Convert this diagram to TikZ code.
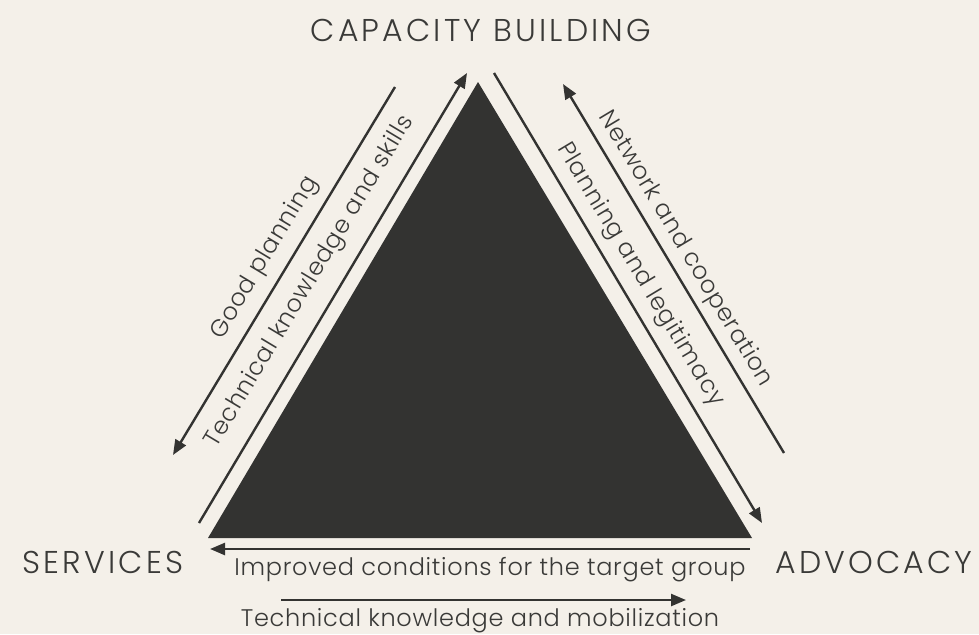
\documentclass[tikz,border=0pt]{standalone}
\usepackage{fontspec}
\setmainfont{Poppins}[UprightFont={* Light}]
\newfontfamily\cornerfont{Poppins}[UprightFont={* Light},LetterSpace=10]
\newfontfamily\labelfont{Poppins}[UprightFont={* Light},LetterSpace=3]
\usetikzlibrary{arrows.meta}
\definecolor{bg}{HTML}{F4F0E9}
\definecolor{ink}{HTML}{333331}
\definecolor{txt}{HTML}{3A3A38}
\begin{document}
\begin{tikzpicture}[x=1pt,y=-1pt,
  conn/.style={draw=ink, line width=2.4pt},
  arr/.style={conn, -{Triangle[length=15pt,width=12pt]}},
  corner/.style={text=txt, font=\cornerfont\fontsize{31.5}{34}\selectfont, inner sep=0pt},
  lbl/.style={text=txt, font=\labelfont\fontsize{24}{27}\selectfont, inner sep=0pt}]
\fill[bg] (0,0) rectangle (979,634);
\useasboundingbox (0,0) rectangle (979,634);
% triangle
\coordinate (apex) at (478,82);
\coordinate (bl) at (208,538);
\coordinate (br) at (752,538);
\fill[ink] (apex) -- (bl) -- (br) -- cycle;
% corner labels
\node[corner] (cb) at (481,30) {CAPACITY BUILDING};
\node[corner] (sv) at (103,562) {SERVICES};
\node[corner] (ad) at (874,562) {ADVOCACY};
% connector end points
\coordinate (l1s) at (395,87);  \coordinate (l1e) at (173,455);
\coordinate (l2s) at (199,523); \coordinate (l2e) at (467,73);
\coordinate (r1s) at (494,73);  \coordinate (r1e) at (762,523);
\coordinate (r2s) at (784,453); \coordinate (r2e) at (563,84);
\coordinate (b1s) at (750,549); \coordinate (b1e) at (210,549);
\coordinate (b2s) at (281,600); \coordinate (b2e) at (686,600);
\draw[arr] (l1s) -- (l1e);
\draw[arr] (l2s) -- (l2e);
\draw[arr] (r1s) -- (r1e);
\draw[arr] (r2s) -- (r2e);
\draw[arr] (b1s) -- (b1e);
\draw[arr] (b2s) -- (b2e);
% labels
\node[lbl, rotate=59] (t1) at (265,258) {Good planning};
\node[lbl, rotate=59] (t2) at (310,282) {Technical knowledge and skills};
\node[lbl, rotate=-59] (t3) at (685,249) {Network and cooperation};
\node[lbl, rotate=-59] (t4) at (640,275) {Planning and legitimacy};
\node[lbl] (t5) at (490,570) {Improved conditions for the target group};
\node[lbl] (t6) at (480,621) {Technical knowledge and mobilization};
\end{tikzpicture}
\end{document}
